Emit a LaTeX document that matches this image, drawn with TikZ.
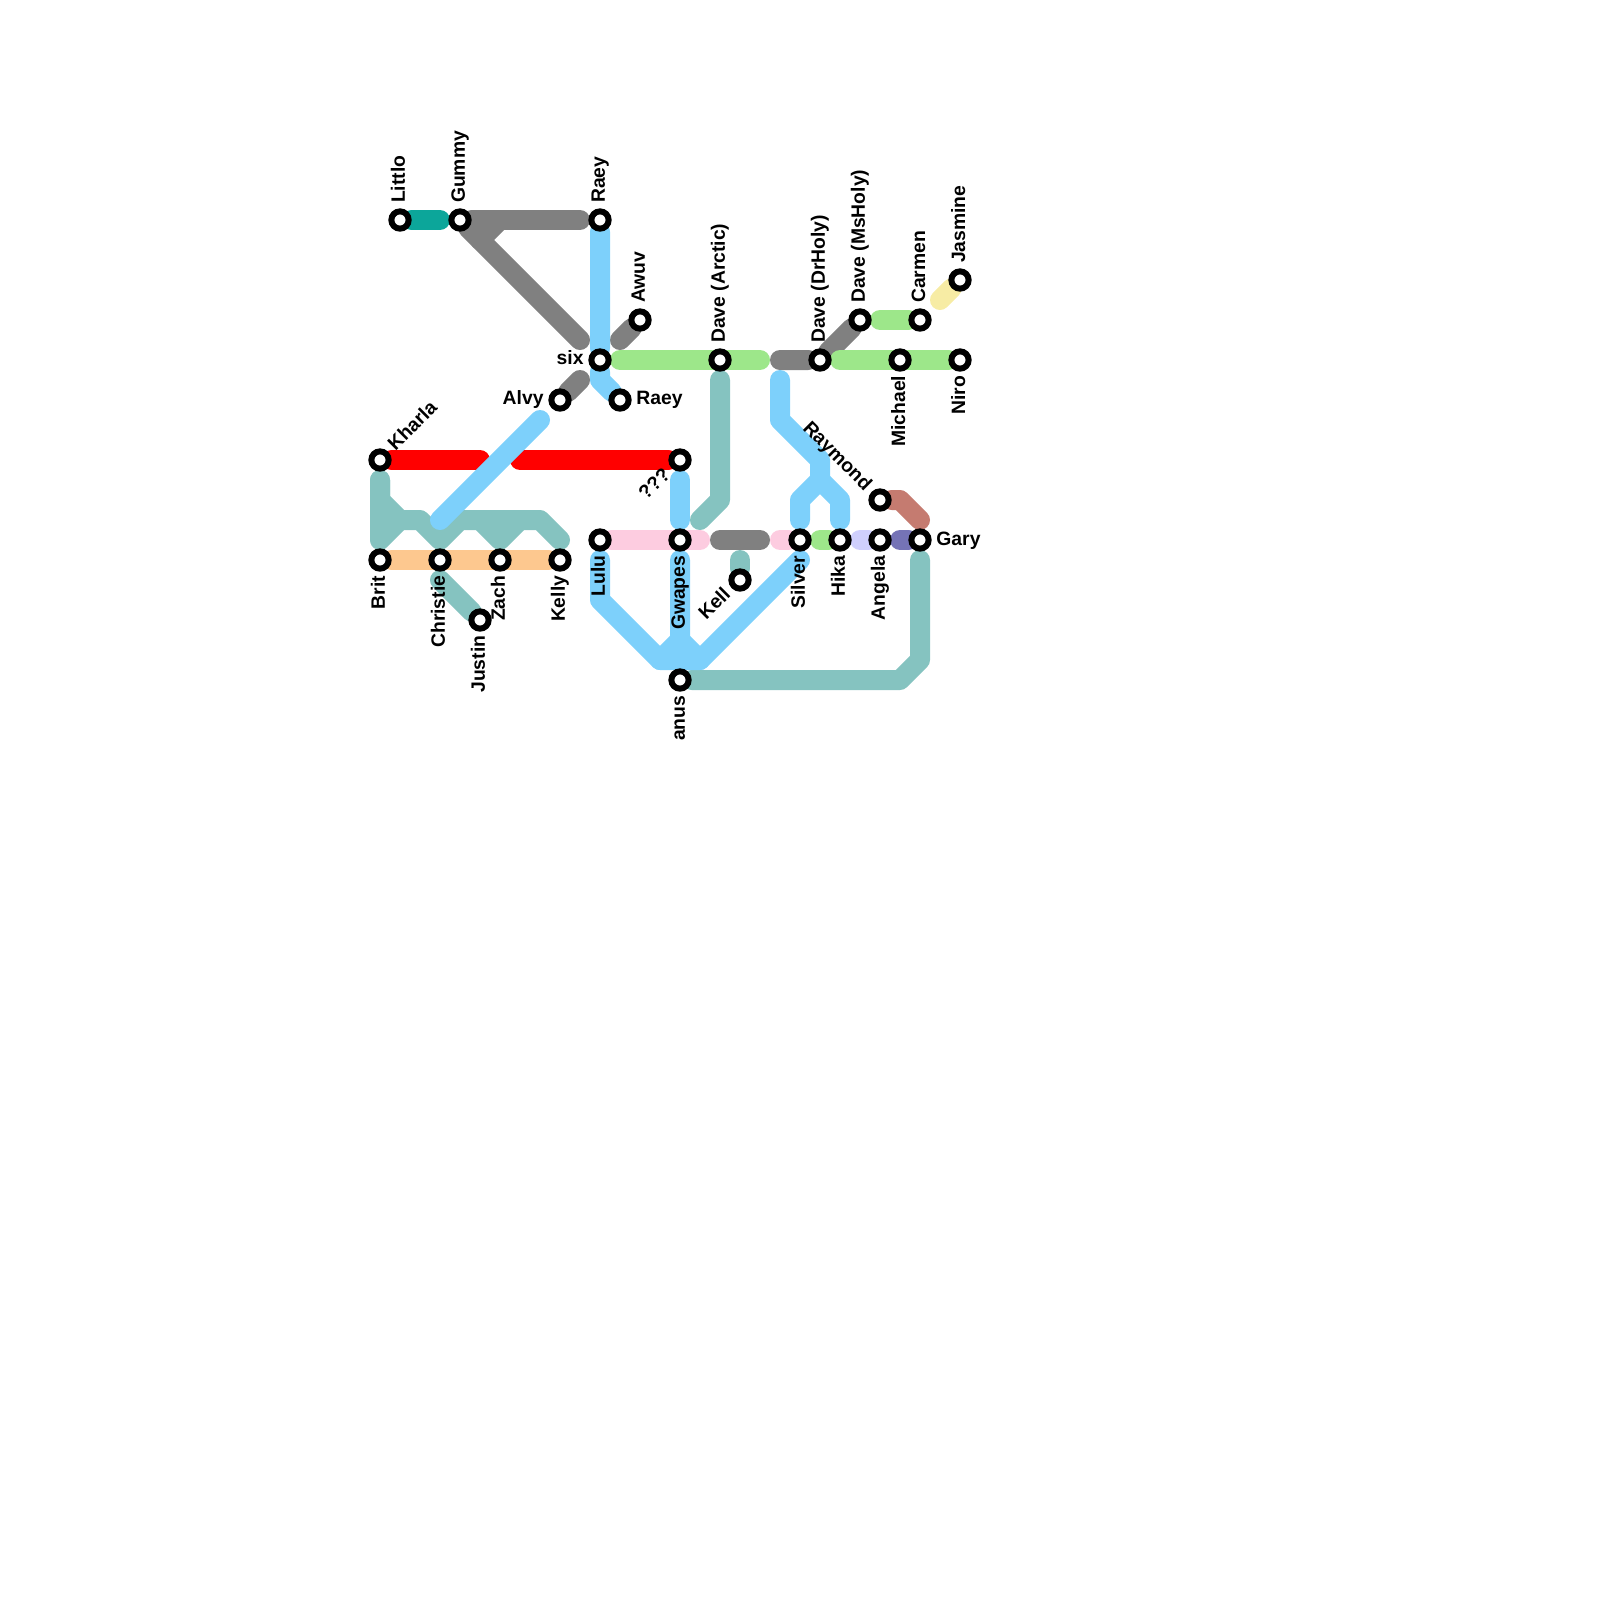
\documentclass[tikz,border=0pt]{standalone}
\usepackage{fontspec}
\setmainfont{Liberation Sans}
\usetikzlibrary{backgrounds}
\definecolor{tealline}{HTML}{0CA69A}
\definecolor{greyline}{HTML}{808080}
\definecolor{skyline}{HTML}{7DD0FB}
\definecolor{greenline}{HTML}{9DE78A}
\definecolor{aqualine}{HTML}{85C3C0}
\definecolor{peachline}{HTML}{FDC88F}
\definecolor{pinkline}{HTML}{FDCCE0}
\definecolor{yellowline}{HTML}{F7ECA4}
\definecolor{lavline}{HTML}{CFCFFD}
\definecolor{purpleline}{HTML}{7573B6}
\definecolor{brownline}{HTML}{C57B70}
\tikzset{
  stop/.style={circle,draw=black,fill=white,line width=4.27pt,inner sep=0pt,minimum size=12.3pt},
  metro/.style={line width=0.5cm,line cap=round,line join=round},
  lbl/.style={inner sep=0pt,font=\fontsize{13.75}{16}\selectfont\bfseries},
  lblup/.style={lbl,xshift=3.55pt,yshift=12pt,rotate=90,anchor=base west},
  lbldown/.style={lbl,xshift=3.55pt,yshift=-11pt,rotate=90,anchor=base east},
  lblleft/.style={lbl,xshift=-11.5pt,yshift=-3.55pt,anchor=base east},
  lblright/.style={lbl,xshift=11.5pt,yshift=-3.55pt,anchor=base west},
  lblne/.style={lbl,xshift=11pt,yshift=6pt,rotate=45,anchor=base west},
  lblsw/.style={lbl,xshift=-6pt,yshift=-11pt,rotate=45,anchor=base east},
  lblnw/.style={lbl,xshift=-11pt,yshift=6pt,rotate=-45,anchor=base east},
}
\begin{document}
\begin{tikzpicture}[x=0.5cm,y=-0.5cm]
\useasboundingbox (0,0) rectangle (80,80);
% Stations
\node[stop] (littlo) at (20,11) {};
\node[stop] (gummy) at (23,11) {};
\node[stop] (raeytop) at (30,11) {};
\node[stop] (awuv) at (32,16) {};
\node[stop] (six) at (30,18) {};
\node[stop] (alvy) at (28,20) {};
\node[stop] (raeylow) at (31,20) {};
\node[stop] (kharla) at (19,23) {};
\node[stop] (qmarks) at (34,23) {};
\node[stop] (lulu) at (30,27) {};
\node[stop] (gwapes) at (34,27) {};
\node[stop] (brit) at (19,28) {};
\node[stop] (christie) at (22,28) {};
\node[stop] (zach) at (25,28) {};
\node[stop] (kelly) at (28,28) {};
\node[stop] (justin) at (24,31) {};
\node[stop] (anus) at (34,34) {};
\node[stop] (kell) at (37,29) {};
\node[stop] (arctic) at (36,18) {};
\node[stop] (drholy) at (41,18) {};
\node[stop] (msholy) at (43,16) {};
\node[stop] (carmen) at (46,16) {};
\node[stop] (jasmine) at (48,14) {};
\node[stop] (michael) at (45,18) {};
\node[stop] (niro) at (48,18) {};
\node[stop] (raymond) at (44,25) {};
\node[stop] (silver) at (40,27) {};
\node[stop] (hika) at (42,27) {};
\node[stop] (angela) at (44,27) {};
\node[stop] (gary) at (46,27) {};
% Free line ends
\coordinate (tealend) at (22,11);
\coordinate (greytop) at (29,11);
\coordinate (greyfork) at (25,11);
\coordinate (greyforkb) at (24,12);
\coordinate (greydiag) at (29,17);
\coordinate (awuvend) at (31,17);
\coordinate (alvyend) at (29,19);
\coordinate (arcgreen) at (31,18);
\coordinate (arcgreenb) at (38,18);
\coordinate (greyshort) at (39,18);
\coordinate (nirogreen) at (42,18);
\coordinate (carmengreen) at (44,16);
\coordinate (yellowend) at (47,15);
\coordinate (arcaqua) at (36,19);
\coordinate (arcaquab) at (35,26);
\coordinate (skyfork) at (39,19);
\coordinate (skysplit) at (41,24);
\coordinate (skyleft) at (40,26);
\coordinate (skyright) at (42,26);
\coordinate (redleft) at (24,23);
\coordinate (redright) at (26,23);
\coordinate (skydiaga) at (22,26);
\coordinate (skydiagb) at (27,21);
\coordinate (qmarksend) at (34,24);
\coordinate (qmarksendb) at (34,26);
\coordinate (aquatop) at (19,24);
\coordinate (aquajoin) at (20,26);
\coordinate (aquabot) at (19,27);
\coordinate (aquavee) at (22,27);
\coordinate (aquaend) at (28,27);
\coordinate (aquazl) at (24,26);
\coordinate (aquazm) at (25,27);
\coordinate (aquazr) at (26,26);
\coordinate (justinend) at (22,29);
\coordinate (pinkend) at (35,27);
\coordinate (greymid) at (36,27);
\coordinate (greymidb) at (38,27);
\coordinate (pinkb) at (39,27);
\coordinate (kellend) at (37,28);
\coordinate (lulustart) at (30,28);
\coordinate (silverend) at (40,28);
\coordinate (gwapesend) at (34,28);
\coordinate (forkgw) at (34,32);
\coordinate (greenhika) at (41,27);
\coordinate (lavend) at (43,27);
\coordinate (purpend) at (45,27);
\coordinate (brownend) at (46,26);
\coordinate (garyaqua) at (46,28);
% Lines
\begin{scope}[on background layer]
\draw[metro,tealline] (littlo) -- (tealend);
\draw[metro,aqualine] (aquatop) -- (19,25) -- (aquajoin) -- (21,26) -- (aquavee) -- (23,26) -- (27,26) -- (aquaend);
\draw[metro,aqualine] (aquatop) -- (aquabot) -- (aquajoin);
\draw[metro,aqualine] (aquazl) -- (aquazm) -- (aquazr);
\draw[metro,aqualine] (justinend) -- (justin);
\draw[metro,aqualine] (arcaqua) -- (36,25) -- (arcaquab);
\draw[metro,aqualine] (kellend) -- (kell);
\draw[metro,aqualine] (garyaqua) -- (46,33) -- (45,34) -- (anus);
\draw[metro,peachline] (brit) -- (kelly);
\draw[metro,red] (kharla) -- (redleft);
\draw[metro,red] (redright) -- (qmarks);
\draw[metro,greyline] (gummy) -- (greytop);
\draw[metro,greyline] (gummy) -- (greydiag);
\draw[metro,greyline] (greyfork) -- (greyforkb);
\draw[metro,greyline] (awuv) -- (awuvend);
\draw[metro,greyline] (alvy) -- (alvyend);
\draw[metro,greyline] (greyshort) -- (drholy) -- (msholy);
\draw[metro,greyline] (greymid) -- (greymidb);
\draw[metro,greenline] (arcgreen) -- (arcgreenb);
\draw[metro,greenline] (nirogreen) -- (niro);
\draw[metro,greenline] (carmengreen) -- (carmen);
\draw[metro,greenline] (greenhika) -- (hika);
\draw[metro,yellowline] (jasmine) -- (yellowend);
\draw[metro,pinkline] (lulu) -- (pinkend);
\draw[metro,pinkline] (pinkb) -- (silver);
\draw[metro,lavline] (lavend) -- (angela);
\draw[metro,purpleline] (purpend) -- (gary);
\draw[metro,brownline] (raymond) -- (45,25) -- (brownend);
\draw[metro,skyline] (raeytop) -- (six) -- (30,19) -- (raeylow);
\draw[metro,skyline] (skydiaga) -- (skydiagb);
\draw[metro,skyline] (qmarksend) -- (qmarksendb);
\draw[metro,skyline] (skyfork) -- (39,21) -- (41,23) -- (skysplit) -- (40,25) -- (skyleft);
\draw[metro,skyline] (skysplit) -- (42,25) -- (skyright);
\draw[metro,skyline] (lulustart) -- (30,30) -- (33,33) -- (35,33) -- (silverend);
\draw[metro,skyline] (gwapesend) -- (forkgw) -- (33,33);
\draw[metro,skyline] (forkgw) -- (35,33);
\end{scope}
% Labels
\node[lblup] (littlot) at (20,11) {Littlo};
\node[lblup] (gummyt) at (23,11) {Gummy};
\node[lblup] (raeytopt) at (30,11) {Raey};
\node[lblup] (awuvt) at (32,16) {Awuv};
\node[lblup] (arctict) at (36,18) {Dave (Arctic)};
\node[lblup] (drholyt) at (41,18) {Dave (DrHoly)};
\node[lblup] (msholyt) at (43,16) {Dave (MsHoly)};
\node[lblup] (carment) at (46,16) {Carmen};
\node[lblup] (jasminet) at (48,14) {Jasmine};
\node[lblleft] (sixt) at (30,18) {six};
\node[lblleft] (alvyt) at (28,20) {Alvy};
\node[lblright] (raeylowt) at (31,20) {Raey};
\node[lblright] (garyt) at (46,27) {Gary};
\node[lblne] (kharlat) at (19,23) {Kharla};
\node[lblsw] (qmarkst) at (34,23) {???};
\node[lblsw] (kellt) at (37,29) {Kell};
\node[lblnw] (raymondt) at (44,25) {Raymond};
\node[lbldown] (britt) at (19,28) {Brit};
\node[lbldown] (christiet) at (22,28) {Christie};
\node[lbldown] (zacht) at (25,28) {Zach};
\node[lbldown] (kellyt) at (28,28) {Kelly};
\node[lbldown] (justint) at (24,31) {Justin};
\node[lbldown] (lulut) at (30,27) {Lulu};
\node[lbldown] (gwapest) at (34,27) {Gwapes};
\node[lbldown] (anust) at (34,34) {anus};
\node[lbldown] (michaelt) at (45,18) {Michael};
\node[lbldown] (nirot) at (48,18) {Niro};
\node[lbldown] (silvert) at (40,27) {Silver};
\node[lbldown] (hikat) at (42,27) {Hika};
\node[lbldown] (angelat) at (44,27) {Angela};
\end{tikzpicture}
\end{document}
